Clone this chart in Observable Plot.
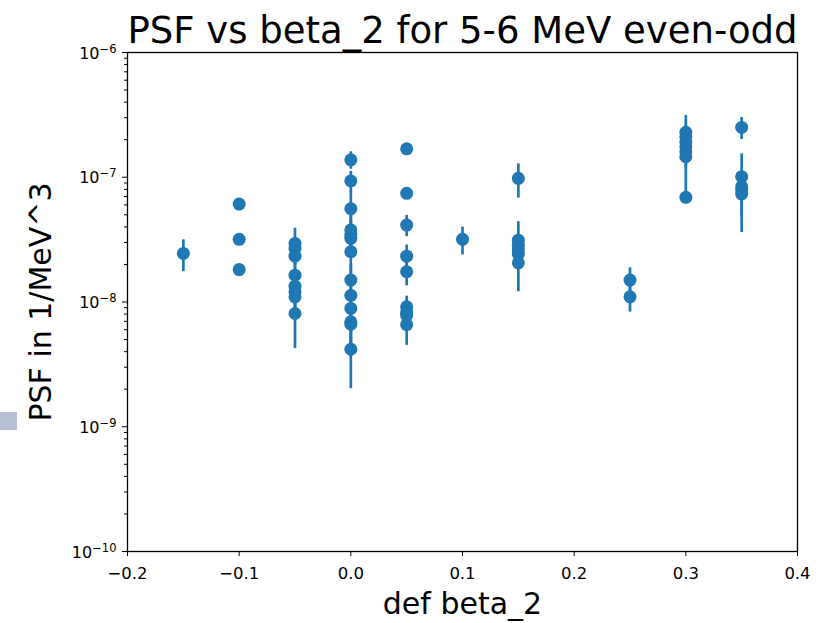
<!DOCTYPE html>
<html>
<head>
<meta charset="utf-8">
<script src="https://cdn.jsdelivr.net/npm/d3@7"></script>
<script src="https://cdn.jsdelivr.net/npm/@observablehq/plot@0.6"></script>
<style>
  html, body { margin: 0; padding: 0; background: white; }
  #wrap { position: relative; width: 818px; height: 623px; }
  #mark { position: absolute; left: 0; top: 412px; width: 17px; height: 18px; background: #b4bfd6; }
</style>
</head>
<body>
<div id="wrap"><div id="mark"></div></div>
<script>
const titleText = "PSF vs beta_2 for 5-6 MeV even-odd";
const xLabel = "def beta_2";
const yLabel = "PSF in 1/MeV^3";
const xTicks = [-0.2, -0.1, 0.0, 0.1, 0.2, 0.3, 0.4];
const yTicks = [1e-10, 1e-9, 1e-8, 1e-7, 1e-6];

// beta_2 values
const betas = [
  -0.15,
  -0.1, -0.1, -0.1,
  -0.05, -0.05, -0.05, -0.05, -0.05, -0.05, -0.05, -0.05,
  0, 0, 0, 0, 0, 0, 0, 0, 0, 0, 0, 0, 0,
  0.05, 0.05, 0.05, 0.05, 0.05, 0.05, 0.05, 0.05, 0.05,
  0.1,
  0.15, 0.15, 0.15, 0.15, 0.15, 0.15,
  0.25, 0.25,
  0.3, 0.3, 0.3, 0.3, 0.3, 0.3, 0.3,
  0.35, 0.35, 0.35, 0.35, 0.35
];
// PSF values (1/MeV^3)
const psf = [
  2.45e-8,
  6.1e-8, 3.18e-8, 1.82e-8,
  2.95e-8, 2.69e-8, 2.33e-8, 1.64e-8, 1.34e-8, 1.21e-8, 1.10e-8, 8.09e-9,
  1.38e-7, 9.34e-8, 5.6e-8, 3.78e-8, 3.44e-8, 3.24e-8, 2.53e-8, 1.50e-8, 1.13e-8, 8.88e-9, 6.93e-9, 6.64e-9, 4.18e-9,
  1.69e-7, 7.43e-8, 4.14e-8, 2.33e-8, 1.75e-8, 9.14e-9, 8.33e-9, 7.84e-9, 6.59e-9,
  3.18e-8,
  9.8e-8, 3.13e-8, 2.86e-8, 2.64e-8, 2.42e-8, 2.06e-8,
  1.50e-8, 1.10e-8,
  2.29e-7, 2.11e-7, 1.92e-7, 1.75e-7, 1.60e-7, 1.46e-7, 6.9e-8,
  2.51e-7, 1.01e-7, 8.41e-8, 7.91e-8, 7.34e-8
];
// symmetric errors
const psfErr = [
  0.7e-8,
  0.3e-8, 0.15e-8, 0.1e-8,
  0.95e-8, 0.5e-8, 0.5e-8, 0.4e-8, 0.3e-8, 0.3e-8, 0.3e-8, 3.86e-9,
  0.22e-7, 1.8e-8, 2.0e-8, 1.5e-8, 1.0e-8, 1.0e-8, 1.0e-8, 5e-9, 3e-9, 3e-9, 3e-9, 3e-9, 2.16e-9,
  0.1e-7, 0.3e-8, 0.8e-8, 0.53e-8, 0.4e-8, 2e-9, 2e-9, 2e-9, 2.1e-9,
  0.8e-8,
  0.3e-7, 1.27e-8, 0.6e-8, 0.5e-8, 0.5e-8, 0.85e-8,
  0.38e-8, 0.27e-8,
  0.84e-7, 0.5e-7, 0.4e-7, 0.4e-7, 0.4e-7, 0.84e-7, 0.4e-8,
  0.5e-7, 0.53e-7, 0.3e-8, 0.3e-8, 3.74e-8
];

const data = betas.map((b, i) => ({x: b, y: psf[i], lo: psf[i] - psfErr[i], hi: psf[i] + psfErr[i]}));

const minorTicks = [];
for (let e = -10; e < -6; e++) for (let m = 2; m <= 9; m++) minorTicks.push(m * Math.pow(10, e));

const fmtX = d => (d < 0 ? "\u2212" : "") + Math.abs(d).toFixed(1);
const color = "#1f77b4";

const chart = Plot.plot({
  width: 818,
  height: 623,
  marginLeft: 127,
  marginRight: 21,
  marginTop: 52,
  marginBottom: 72,
  style: {fontFamily: "DejaVu Sans", color: "black", background: "white"},
  x: {domain: [-0.2, 0.4]},
  y: {type: "log", domain: [1e-10, 1e-6]},
  marks: [
    Plot.ruleX(data, {x: "x", y1: "lo", y2: "hi", stroke: color, strokeWidth: 2.7}),
    Plot.dot(data, {x: "x", y: "y", r: 6.5, fill: color, stroke: null}),
    Plot.frame({stroke: "black", strokeWidth: 1.3}),
    Plot.axisX({ticks: xTicks, tickFormat: fmtX, tickSize: 5, tickPadding: 11, fontSize: 16.5, label: null}),
    Plot.axisY({ticks: yTicks, tickFormat: d => "10^" + Math.round(Math.log10(d)), tickSize: 5, tickPadding: 6, fontSize: 16, label: null}),
    Plot.axisY({ticks: minorTicks, tickFormat: () => "", tickSize: 3, label: null}),
    Plot.text([titleText], {frameAnchor: "top", dy: -10, lineAnchor: "bottom", fontSize: 37, fill: "black"}),
    Plot.text([xLabel], {frameAnchor: "bottom", dy: 62, lineAnchor: "bottom", fontSize: 30, fill: "black"}),
    Plot.text([yLabel], {frameAnchor: "left", dx: -77, rotate: -90, textAnchor: "middle", lineAnchor: "bottom", fontSize: 30, fill: "black"})
  ]
});

// render y tick labels as power-of-ten with superscript exponent
chart.querySelectorAll('g[aria-label="y-axis tick label"] text').forEach(t => {
  const s = t.textContent;
  if (!s.startsWith("10^")) return;
  const e = s.slice(3).replace("-", "\u2212");
  t.textContent = "";
  const ns = "http://www.w3.org/2000/svg";
  const a = document.createElementNS(ns, "tspan");
  a.textContent = "10";
  const b = document.createElementNS(ns, "tspan");
  b.textContent = e;
  b.setAttribute("dy", "-6");
  b.setAttribute("font-size", "11.5");
  t.appendChild(a);
  t.appendChild(b);
  t.setAttribute("y", "6");
});

document.getElementById("wrap").appendChild(chart);
</script>
</body>
</html>
